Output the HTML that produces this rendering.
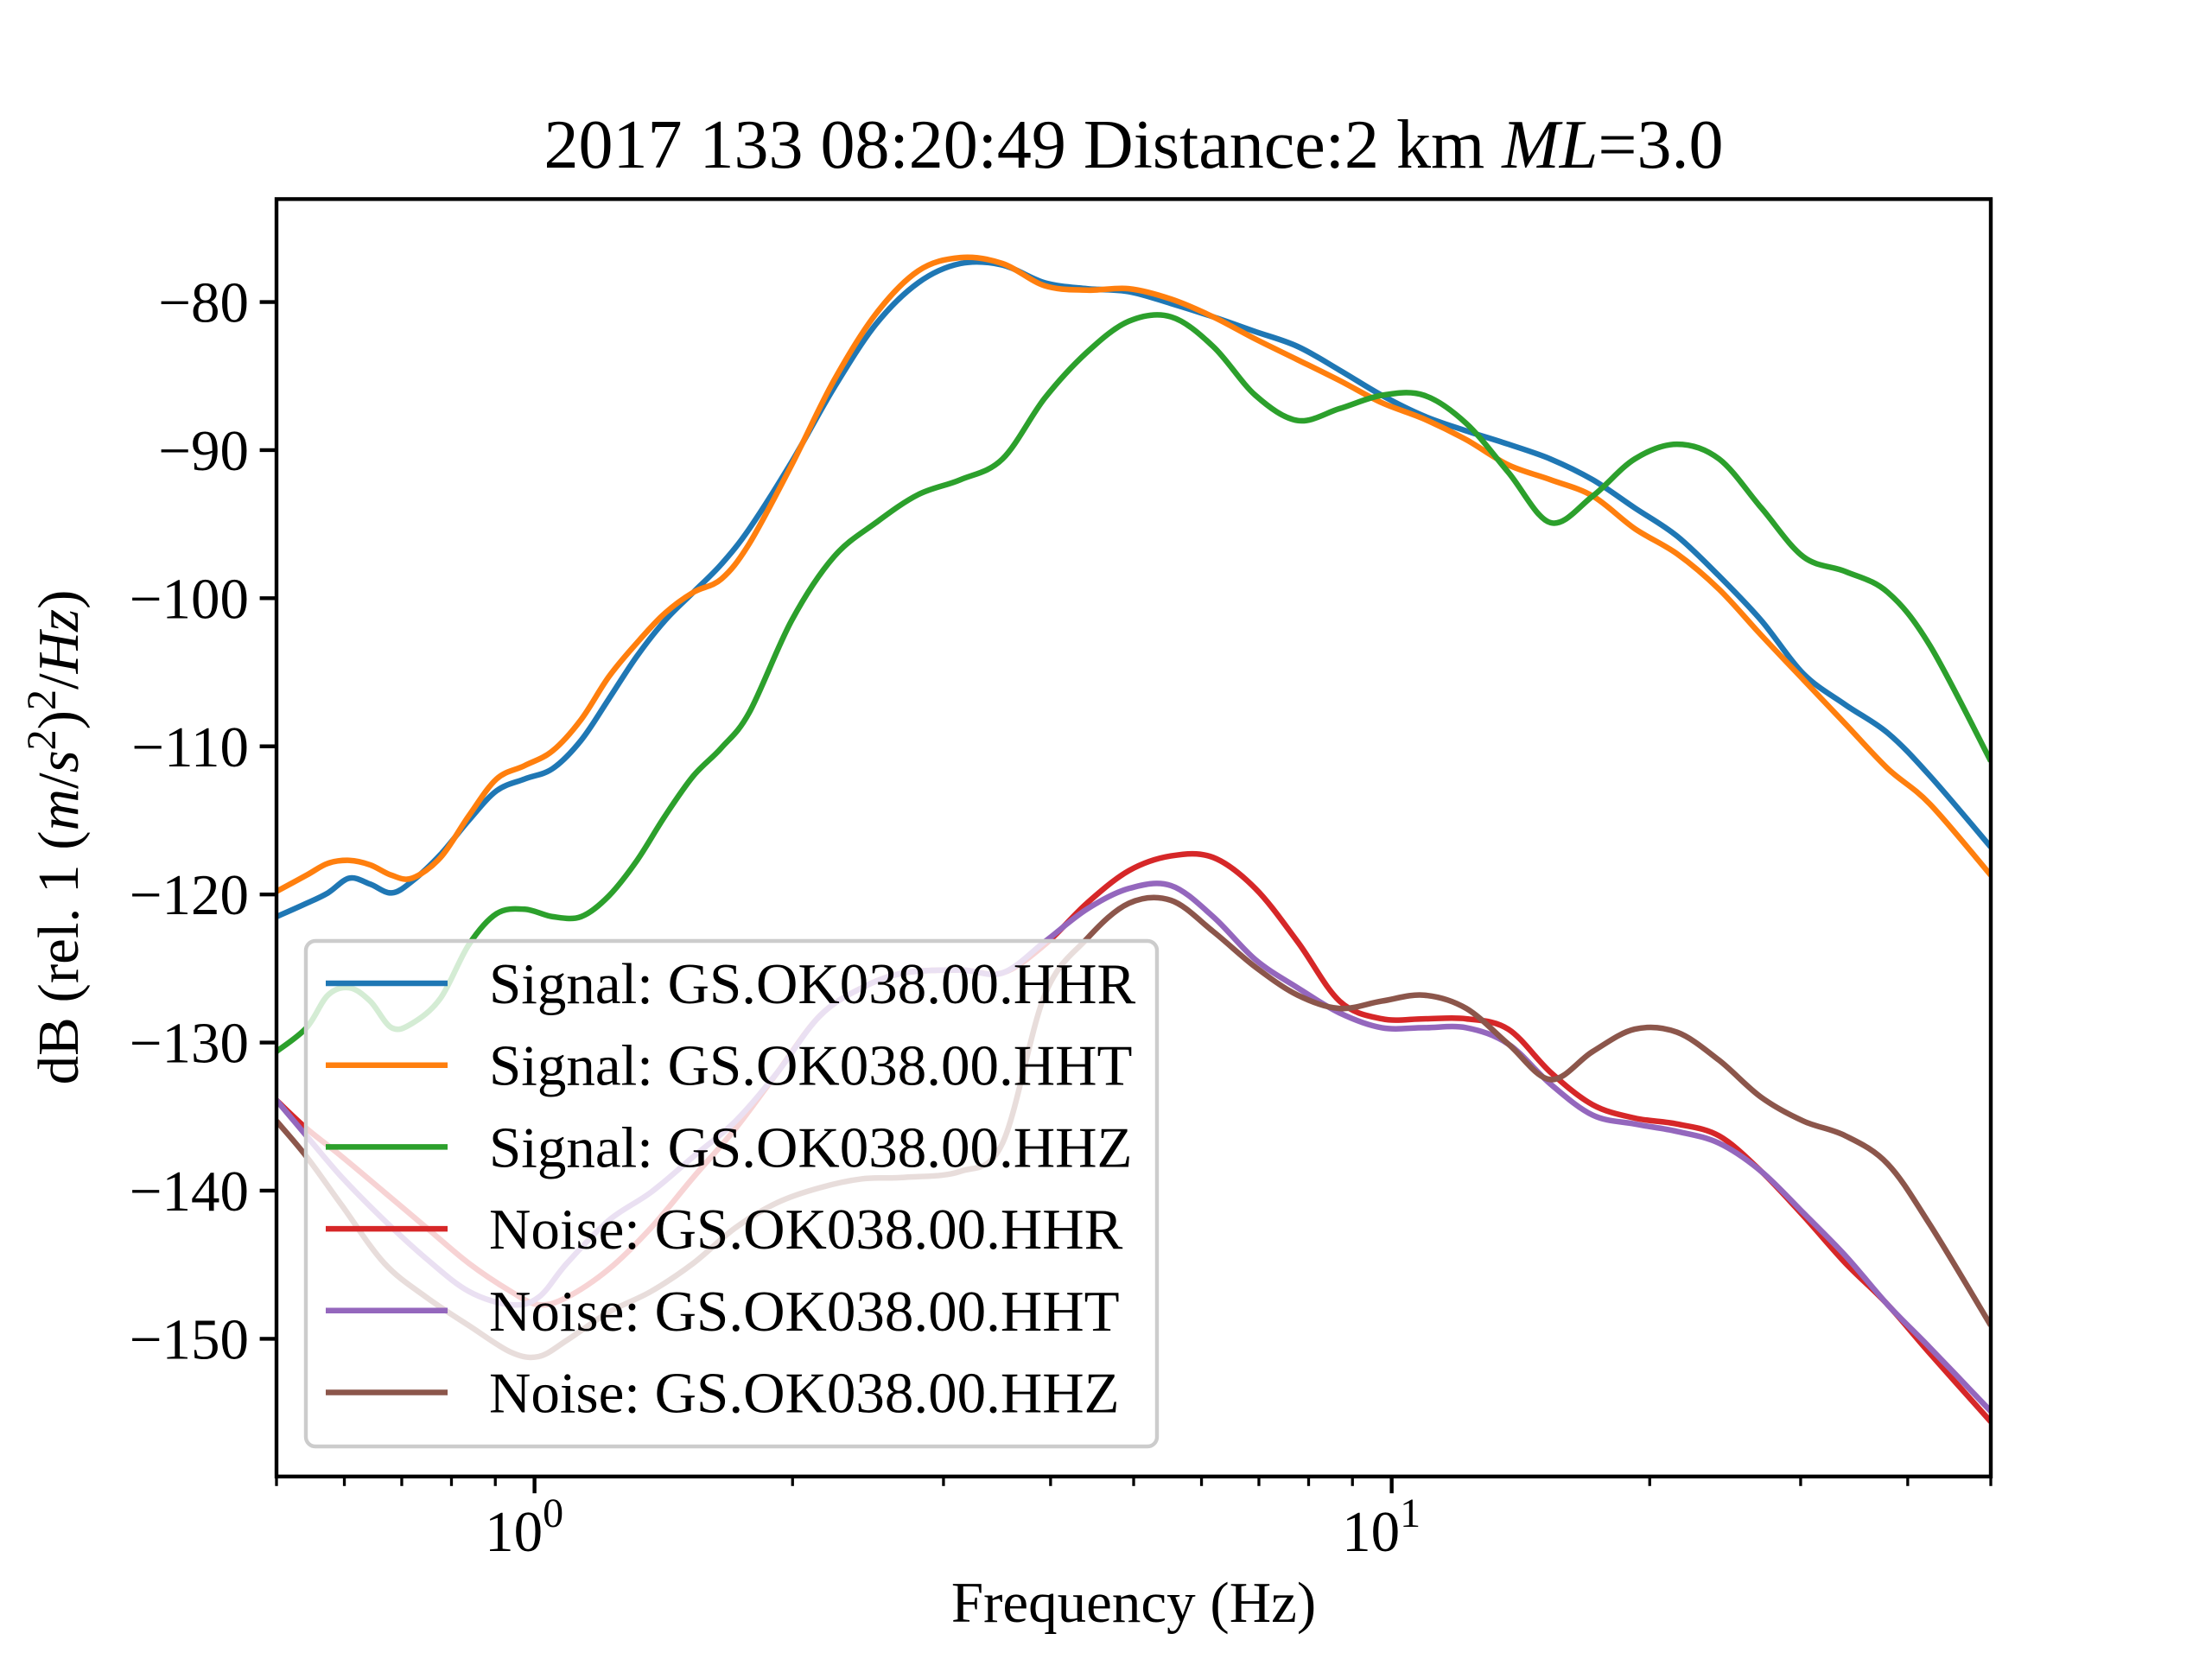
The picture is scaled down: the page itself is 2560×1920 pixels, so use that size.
<!DOCTYPE html>
<html><head><meta charset="utf-8"><style>
html,body{margin:0;padding:0;background:#fff;}
svg{display:block;font-family:"Liberation Serif","DejaVu Serif",serif;}
</style></head><body>
<svg id="chart" width="2560" height="1920" viewBox="0 0 2560 1920" xmlns="http://www.w3.org/2000/svg">
<rect width="2560" height="1920" fill="#fff"/>
<text x="1312" y="194" font-size="80" text-anchor="middle">2017 133 08:20:49 Distance:2 km <tspan font-style="italic">ML</tspan>=3.0</text>
<g id="plot"></g>
<g id="axes"></g>
<g id="legend"></g>
<text x="1312" y="1877" font-size="67" text-anchor="middle">Frequency (Hz)</text>
<text transform="translate(90,969) rotate(-90)" font-size="67" text-anchor="middle">dB (rel. 1 (<tspan font-style="italic">m</tspan>/<tspan font-style="italic">s</tspan><tspan dy="-26" font-size="48">2</tspan><tspan dy="26">)</tspan><tspan dy="-26" font-size="48">2</tspan><tspan dy="26">/</tspan><tspan font-style="italic">Hz</tspan>)</text>
</svg>
<script>
const sigFreq=[0.5,0.542,0.574,0.608,0.643,0.681,0.72,0.777,0.838,0.903,0.974,1.05,1.133,1.221,1.317,1.42,1.532,1.652,1.781,1.995,2.235,2.502,2.803,3.139,3.515,3.937,4.409,4.936,5.528,6.191,6.934,7.768,8.694,9.739,10.91,12.22,13.68,15.32,17.16,19.21,21.52,24.1,26.99,30.22,33.85,37.91,42.46,50];
const sigHHR=[-121.5,-120.6,-119.9,-118.9,-119.3,-119.9,-119.1,-117.3,-115.0,-113.0,-112.2,-111.5,-109.6,-106.8,-103.9,-101.5,-99.6,-97.7,-95.3,-90.8,-85.8,-81.5,-78.7,-77.4,-77.5,-78.7,-79.1,-79.3,-80.1,-81.0,-82.0,-83.0,-84.6,-86.3,-87.7,-88.7,-89.6,-90.6,-92.0,-93.9,-95.8,-98.5,-101.5,-105.1,-107.2,-109.1,-112.0,-116.8];
const sigHHT=[-119.8,-118.7,-117.9,-117.7,-118.0,-118.7,-118.9,-117.5,-114.7,-112.2,-111.3,-110.3,-108.2,-105.3,-103.0,-101.0,-99.6,-98.7,-96.3,-91.0,-85.3,-80.8,-77.9,-77.0,-77.4,-78.9,-79.2,-79.1,-79.8,-81.0,-82.5,-83.9,-85.3,-86.8,-87.9,-89.3,-91.0,-92.0,-93.1,-95.3,-97.0,-99.4,-102.5,-105.5,-108.5,-111.5,-113.9,-118.7];
const sigHHZ=[-130.6,-129.0,-126.8,-126.3,-127.2,-129.0,-128.7,-127.0,-123.4,-121.3,-121.0,-121.5,-121.5,-120.1,-117.7,-114.7,-112.0,-110.1,-107.7,-101.5,-97.2,-94.9,-93.0,-92.0,-90.6,-86.5,-83.4,-81.3,-81.0,-83.0,-86.3,-88.0,-87.2,-86.3,-86.3,-88.2,-91.5,-94.9,-93.1,-90.6,-89.6,-90.6,-93.9,-97.2,-98.2,-99.6,-103.2,-111.0];
const noiseFreq=[0.5,0.542,0.596,0.668,0.748,0.838,0.938,1.011,1.091,1.221,1.368,1.532,1.716,1.921,2.152,2.41,2.699,3.139,3.515,3.937,4.409,4.936,5.528,6.191,6.934,7.768,8.694,9.739,10.91,12.22,13.68,15.32,17.16,19.21,21.52,24.1,26.99,30.22,33.85,37.91,42.46,50];
const noiseHHR=[-133.9,-135.8,-137.7,-140.1,-142.5,-144.9,-146.8,-147.7,-147.2,-145.3,-142.5,-139.1,-135.8,-132.0,-128.2,-126.3,-125.3,-125.1,-125.3,-123.4,-120.6,-118.4,-117.4,-117.5,-119.6,-123.2,-127.2,-128.4,-128.4,-128.4,-129.1,-132.0,-134.2,-135.1,-135.5,-136.3,-138.7,-141.7,-144.9,-147.7,-151.0,-155.6];
const noiseHHT=[-133.9,-136.3,-139.1,-142.0,-144.6,-146.8,-147.7,-147.2,-144.9,-142.0,-140.1,-137.7,-135.3,-132.0,-128.2,-126.3,-125.3,-125.1,-125.3,-123.2,-121.0,-119.6,-119.4,-121.5,-124.4,-126.3,-128.0,-129.0,-129.0,-129.0,-130.1,-132.8,-134.9,-135.5,-136.0,-136.8,-138.7,-141.5,-144.4,-147.7,-150.6,-154.9];
const noiseHHZ=[-135.3,-137.7,-141.0,-144.9,-147.2,-149.1,-150.9,-151.2,-150.1,-148.2,-146.8,-144.9,-142.5,-140.8,-139.8,-139.2,-139.1,-138.7,-136.8,-126.8,-123.0,-120.6,-120.4,-122.5,-124.9,-126.8,-127.7,-127.2,-126.8,-127.7,-130.1,-132.5,-130.6,-129.1,-129.3,-131.2,-133.7,-135.3,-136.3,-138.2,-142.3,-149.1];
const seriesNames=["Signal: GS.OK038.00.HHR","Signal: GS.OK038.00.HHT","Signal: GS.OK038.00.HHZ","Noise: GS.OK038.00.HHR","Noise: GS.OK038.00.HHT","Noise: GS.OK038.00.HHZ"];
const yTicks=[-80,-90,-100,-110,-120,-130,-140,-150];
const xMajor=[1,10];
const xMajorExp=["0","1"];
const xMinor=[0.5,0.6,0.7,0.8,0.9,2,3,4,5,6,7,8,9,20,30,40,50];

const NS="http://www.w3.org/2000/svg";
const L=320,R=2304,T=230.4,B=1708.8;
const xmin=Math.log10(0.5),xmax=Math.log10(50),ymin=-159.3,ymax=-73.05;
function xs(f){return L+(Math.log10(f)-xmin)/(xmax-xmin)*(R-L);}
function ys(v){return B-(v-ymin)/(ymax-ymin)*(B-T);}
function mk(tag,attrs,parent){const e=document.createElementNS(NS,tag);for(const k in attrs)e.setAttribute(k,attrs[k]);parent.appendChild(e);return e;}
function smooth(pts){let d="M"+pts[0][0].toFixed(1)+","+pts[0][1].toFixed(1);
 for(let i=0;i<pts.length-1;i++){const p0=pts[i-1]||pts[i],p1=pts[i],p2=pts[i+1],p3=pts[i+2]||p2;
  const c1=[p1[0]+(p2[0]-p0[0])/6,p1[1]+(p2[1]-p0[1])/6],c2=[p2[0]-(p3[0]-p1[0])/6,p2[1]-(p3[1]-p1[1])/6];
  d+="C"+c1[0].toFixed(1)+","+c1[1].toFixed(1)+" "+c2[0].toFixed(1)+","+c2[1].toFixed(1)+" "+p2[0].toFixed(1)+","+p2[1].toFixed(1);}
 return d;}
const plot=document.getElementById('plot');
const cp=mk('clipPath',{id:'clip'},plot);
mk('rect',{x:L,y:T,width:R-L,height:B-T},cp);
const colors=["#1f77b4","#ff7f0e","#2ca02c","#d62728","#9467bd","#8c564b"];
const allSeries=[[sigFreq,sigHHR],[sigFreq,sigHHT],[sigFreq,sigHHZ],[noiseFreq,noiseHHR],[noiseFreq,noiseHHT],[noiseFreq,noiseHHZ]];
const lineNames=["signal-hhr-line","signal-hht-line","signal-hhz-line","noise-hhr-line","noise-hht-line","noise-hhz-line"];
allSeries.forEach((s,i)=>{
 const pts=s[0].map((f,j)=>[xs(f),ys(s[1][j])]);
 const p=mk('path',{d:smooth(pts),fill:'none',stroke:colors[i],'stroke-width':6.5,'stroke-linejoin':'round','clip-path':'url(#clip)'},plot);
 
 
});
const ax=document.getElementById('axes');
yTicks.forEach(v=>{const y=ys(v);
 const t=mk('line',{x1:L-19.4,x2:L,y1:y,y2:y,stroke:'#000','stroke-width':4.4},ax);
 
 
 const tx=mk('text',{x:L-32,y:y+23,'font-size':67,'text-anchor':'end'},ax);
 tx.textContent="\u2212"+Math.abs(v);
 
 
});
xMinor.forEach(f=>{const x=xs(f);
 const t=mk('line',{x1:x,x2:x,y1:B,y2:B+11,stroke:'#000','stroke-width':3.3},ax);
 
 
});
xMajor.forEach((f,i)=>{const x=xs(f);
 const t=mk('line',{x1:x,x2:x,y1:B,y2:B+19.4,stroke:'#000','stroke-width':4.4},ax);
 
 
 const tx=mk('text',{x:x-12,y:1795,'font-size':67,'text-anchor':'middle'},ax);
 tx.textContent="10";
 const sp=mk('tspan',{dy:-28,'font-size':48},tx);sp.textContent=xMajorExp[i];
 
 
});
const fr=mk('rect',{x:L,y:T,width:R-L,height:B-T,fill:'none',stroke:'#000','stroke-width':4.4},ax);


const lg=document.getElementById('legend');
const box=mk('rect',{x:354,y:1089,width:985,height:585,rx:11,fill:'#fff','fill-opacity':0.8,stroke:'#ccc','stroke-width':4.4},lg);


seriesNames.forEach((n,i)=>{const y=1138+i*94.7;
 const g=mk('g',{},lg);
 
 
 mk('line',{x1:377,x2:518,y1:y,y2:y,stroke:colors[i],'stroke-width':6.5},g);
 const tx=mk('text',{x:566,y:y+23,'font-size':67},g);tx.textContent=n;
});
</script>
</body></html>
